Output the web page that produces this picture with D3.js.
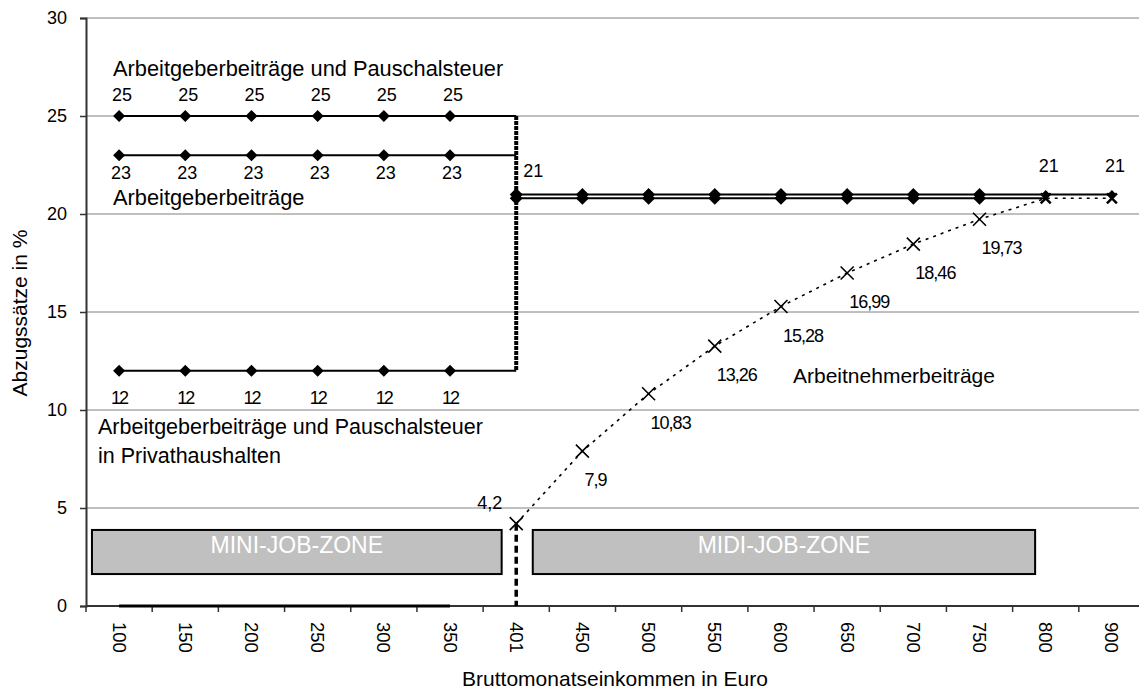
<!DOCTYPE html>
<html><head><meta charset="utf-8">
<script src="https://cdn.jsdelivr.net/npm/d3@7"></script>
<style>
body{margin:0;background:#fff}
text{font-family:"Liberation Sans",Arial,sans-serif;fill:#000}
</style>
</head><body>
<svg id="c" width="1139" height="690"></svg>
<script>
// ---------- data ----------
const categories = ["100","150","200","250","300","350","401","450","500","550","600","650","700","750","800","900"];
const yTicks = [0,5,10,15,20,25,30];

// Mini-Job-Zone (100 .. 401; markers on 100..350)
const miniCategories = ["100","150","200","250","300","350","401"];
const agPauschMini = [25,25,25,25,25,25,25];
const agMini       = [23,23,23,23,23,23,23];
const privMini     = [12,12,12,12,12,12,12];
const anMiniCategories = ["100","150","200","250","300","350"];
const anMini       = [0,0,0,0,0,0];

// Midi-Job-Zone (401 .. 900)
const midiCategories = ["401","450","500","550","600","650","700","750","800","900"];
const agMidi       = [21,21,21,21,21,21,21,21,21,21];
const agMidiLowerCategories = ["401","450","500","550","600","650","700","750","800"];
const agMidiLower  = [20.8,20.8,20.8,20.8,20.8,20.8,20.8,20.8,20.8];
const anMidi       = [4.2,7.9,10.83,13.26,15.28,16.99,18.46,19.73,20.8,20.8];
const anLabels     = ["4,2","7,9","10,83","13,26","15,28","16,99","18,46","19,73"];
const agMidiLabelCategories = ["401","800","900"];
const agMidiLabels = ["21","21","21"];

const zones = ["MINI-JOB-ZONE","MIDI-JOB-ZONE"];

// ---------- layout ----------
const svg = d3.select("#c");
const X0 = 86, X1 = 1145, Y0 = 606, Y1 = 18;
const x = d3.scaleBand().domain(categories).range([X0, X1]).padding(0);
const bw = x.bandwidth();
const cx = c => x(c) + bw/2;
const y = d3.scaleLinear().domain([0,30]).range([Y0, Y1]);

// gridlines
svg.append("g").selectAll("line").data(yTicks.filter(d=>d>0)).join("line")
  .attr("x1", X0).attr("x2", 1139).attr("y1", d=>y(d)).attr("y2", d=>y(d))
  .attr("stroke", "#808080").attr("stroke-width", 1);

// y axis
const yAxis = svg.append("g").attr("transform", `translate(${X0},0)`)
  .call(d3.axisLeft(y).tickValues(yTicks).tickSize(6).tickPadding(13));
yAxis.select(".domain").attr("stroke","#333").attr("stroke-width",2);
yAxis.selectAll(".tick line").attr("stroke","#333").attr("stroke-width",1.5);
yAxis.selectAll(".tick text").attr("font-size",18).attr("font-family","Liberation Sans, Arial, sans-serif").attr("fill","#000");

// x axis
const xAxisG = svg.append("g").attr("transform", `translate(0,${Y0})`);
xAxisG.append("line").attr("x1",X0).attr("x2",1139).attr("y1",0).attr("y2",0)
  .attr("stroke","#333").attr("stroke-width",2);
xAxisG.selectAll("line.tk").data(categories.concat(["end"])).join("line").attr("class","tk")
  .attr("x1",(d,i)=>X0+i*bw).attr("x2",(d,i)=>X0+i*bw).attr("y1",0).attr("y2",6)
  .attr("stroke","#333").attr("stroke-width",1.5);
xAxisG.selectAll("text").data(categories).join("text")
  .attr("transform", d=>`translate(${cx(d)},16) rotate(90)`)
  .attr("dy","0.35em").attr("font-size",18.5).text(d=>d);

// axis titles
svg.append("text").attr("transform","translate(27,313) rotate(-90)")
  .attr("text-anchor","middle").attr("font-size",21).text("Abzugssätze in %");
svg.append("text").attr("x",615).attr("y",686)
  .attr("text-anchor","middle").attr("font-size",21).text("Bruttomonatseinkommen in Euro");

// zone boxes
const zoneBounds = [
  [x("100")+0.09*bw, x("401")+0.28*bw],
  [x("401")+0.75*bw, x("800")+0.34*bw]
];
const zg = svg.append("g");
zones.forEach((name,i)=>{
  const [a,b] = zoneBounds[i];
  zg.append("rect").attr("x",a).attr("y",y(3.88)).attr("width",b-a).attr("height",y(1.63)-y(3.88))
    .attr("fill","#c0c0c0").attr("stroke","#000").attr("stroke-width",2);
  zg.append("text").attr("x",(a+b)/2).attr("y",y(1.63)-21).attr("text-anchor","middle")
    .attr("font-size",23).style("fill","#fff").text(name);
});

// helpers
const line = d3.line();
const pts = (cats, vals) => cats.map((c,i)=>[cx(c), y(vals[i])]);
const diamond = r => `M0,${-r}L${r},0L0,${r}L${-r},0Z`;
const cross = r => `M${-r},${-r}L${r},${r}M${r},${-r}L${-r},${r}`;

const lg = svg.append("g");
// mini zone lines
[agPauschMini, agMini, privMini].forEach(vals=>{
  lg.append("path").attr("d", line(pts(miniCategories, vals)))
    .attr("fill","none").attr("stroke","#000").attr("stroke-width",2);
});
// AN mini (0)
lg.append("path").attr("d", line(pts(anMiniCategories, anMini)))
  .attr("fill","none").attr("stroke","#000").attr("stroke-width",3);

// vertical drop at 401 (25 -> 12)
lg.append("line").attr("x1",cx("401")).attr("x2",cx("401"))
  .attr("y1",y(agPauschMini[6])).attr("y2",y(privMini[6]))
  .attr("stroke","#000").attr("stroke-width",4).attr("stroke-dasharray","4,1");
// vertical dashed at 401 (AN -> 0)
lg.append("line").attr("x1",cx("401")).attr("x2",cx("401"))
  .attr("y1",y(anMidi[0])).attr("y2",y(0))
  .attr("stroke","#000").attr("stroke-width",3.5).attr("stroke-dasharray","7,4");

// midi AG lines
lg.append("path").attr("d", line(pts(midiCategories, agMidi)))
  .attr("fill","none").attr("stroke","#000").attr("stroke-width",2);
lg.append("path").attr("d", line(pts(agMidiLowerCategories, agMidiLower)))
  .attr("fill","none").attr("stroke","#000").attr("stroke-width",2);

// AN midi dotted line
lg.append("path").attr("d", line(pts(midiCategories, anMidi)))
  .attr("fill","none").attr("stroke","#000").attr("stroke-width",1.6).attr("stroke-dasharray","3,5");

// markers
const mg = svg.append("g");
[agPauschMini, agMini, privMini].forEach(vals=>{
  mg.selectAll(null).data(miniCategories.slice(0,6)).join("path")
    .attr("transform",(d,i)=>`translate(${cx(d)},${y(vals[i])})`)
    .attr("d", diamond(6)).attr("fill","#000");
});
midiCategories.forEach((c,i)=>{
  const big = i < 8;
  mg.append("path").attr("transform",`translate(${cx(c)},${y(agMidi[i])})`)
    .attr("d", diamond(big?6.5:4.5)).attr("fill","#000");
  if (i < agMidiLower.length && big)
    mg.append("path").attr("transform",`translate(${cx(c)},${y(agMidiLower[i])})`)
      .attr("d", diamond(6.5)).attr("fill","#000");
});
midiCategories.forEach((c,i)=>{
  mg.append("path").attr("transform",`translate(${cx(c)},${y(anMidi[i])})`)
    .attr("d", cross(i<8?6.5:5)).attr("fill","none").attr("stroke","#000").attr("stroke-width",i<8?1.6:2.5);
});

// data labels
const tg = svg.append("g").attr("font-size",18);
miniCategories.slice(0,6).forEach((c,i)=>{
  tg.append("text").attr("x",cx(c)+3).attr("y",y(agPauschMini[i])-15).attr("text-anchor","middle").text(agPauschMini[i]);
  tg.append("text").attr("x",cx(c)+2).attr("y",y(agMini[i])+24).attr("text-anchor","middle").text(agMini[i]);
  tg.append("text").attr("x",cx(c)).attr("y",y(privMini[i])+33).attr("text-anchor","middle")
    .attr("letter-spacing",-2).text(privMini[i]);
});
agMidiLabelCategories.forEach((c,i)=>{
  const first = i===0;
  tg.append("text").attr("x", first ? cx(c)+7 : cx(c)+3)
    .attr("y", first ? 177 : y(21)-22)
    .attr("text-anchor", first ? "start" : "middle").text(agMidiLabels[i]);
});
anLabels.forEach((lab,i)=>{
  const c = midiCategories[i];
  if (i===0) {
    tg.append("text").attr("x",cx(c)-14).attr("y",y(anMidi[i])-15).attr("text-anchor","end").text(lab);
  } else {
    tg.append("text").attr("x",cx(c)+2).attr("y",y(anMidi[i])+35).attr("text-anchor","start")
      .attr("letter-spacing",-1).text(lab);
  }
});

// annotations
const ag = svg.append("g").attr("font-size",21.8);
ag.append("text").attr("x",113).attr("y",76).text("Arbeitgeberbeiträge und Pauschalsteuer");
ag.append("text").attr("x",113).attr("y",205).text("Arbeitgeberbeiträge");
ag.append("text").attr("x",98).attr("y",434).attr("font-size",21.5).text("Arbeitgeberbeiträge und Pauschalsteuer");
ag.append("text").attr("x",98).attr("y",463).attr("font-size",21.5).text("in Privathaushalten");
ag.append("text").attr("x",793).attr("y",383).attr("font-size",21).text("Arbeitnehmerbeiträge");
</script>
</body></html>
